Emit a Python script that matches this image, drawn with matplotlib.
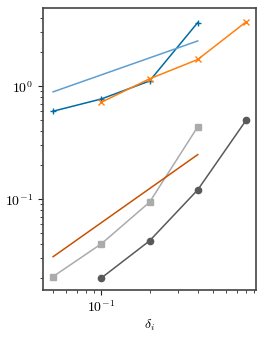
import matplotlib
matplotlib.use("Agg")
import matplotlib.pyplot as plt

plt.rcParams['mathtext.fontset'] = 'cm'
plt.rcParams['font.family'] = 'serif'
plt.rcParams['font.serif'] = ['cmr10', 'DejaVu Serif']
plt.rcParams['axes.formatter.use_mathtext'] = True
plt.rcParams['font.size'] = 10

# datos
delta_a = [0.05, 0.1, 0.2, 0.4]
delta_b = [0.1, 0.2, 0.4, 0.8]
delta_ref = [0.05, 0.4]

err_mas = [0.60, 0.77, 1.11, 3.65]
err_cruz = [0.72, 1.16, 1.72, 3.69]
err_cuadrado = [0.0207, 0.0403, 0.094, 0.437]
err_circulo = [0.0201, 0.0428, 0.121, 0.497]
ref_media = [0.89, 2.51]
ref_uno = [0.031, 0.248]

fig, ax = plt.subplots(figsize=(2.66, 3.37), dpi=100)
ax.plot(delta_a, err_mas, color='#006BA4', marker='+', ms=5, lw=1.1)
ax.plot(delta_b, err_cruz, color='#FF800E', marker='x', ms=5, lw=1.1)
ax.plot(delta_a, err_cuadrado, color='#ABABAB', marker='s', ms=4.5, lw=1.1)
ax.plot(delta_b, err_circulo, color='#595959', marker='o', ms=4.5, lw=1.1)
ax.plot(delta_ref, ref_media, color='#5F9ED1', lw=1.1)
ax.plot(delta_ref, ref_uno, color='#C85200', lw=1.1)

ax.set_xscale('log')
ax.set_yscale('log')
ax.set_xlim(0.0433, 0.93)
ax.set_ylim(0.0158, 4.9)
ax.set_xlabel(r'$\delta_i$', labelpad=2)
for s in ax.spines.values():
    s.set_color('#444444')
    s.set_linewidth(1.2)
ax.tick_params(which='both', color='#222222', direction='out')

fig.subplots_adjust(left=0.162, right=0.964, top=0.976, bottom=0.14)
fig.savefig('out.png', dpi=100)
